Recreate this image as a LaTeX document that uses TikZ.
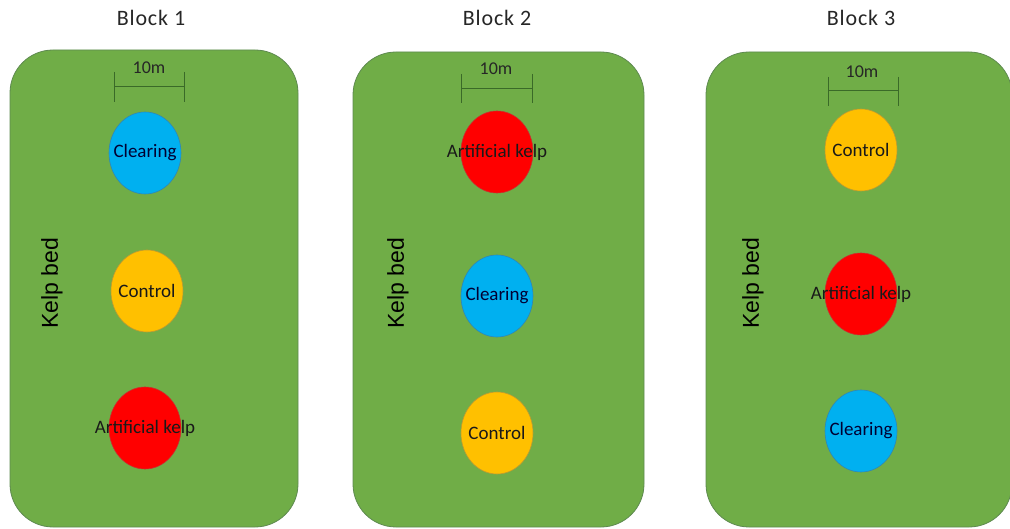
\documentclass[tikz,border=0pt]{standalone}
\usepackage{fontspec}
\setmainfont{Carlito}
\newfontfamily\kelpfont{Liberation Sans}
\newfontfamily\titlefont[LetterSpace=4]{Carlito}
\usetikzlibrary{shapes.geometric}
\definecolor{bedgreen}{HTML}{70AD47}
\definecolor{bedborder}{HTML}{5E8A50}
\definecolor{clrblue}{HTML}{00B0F0}
\definecolor{clrblueb}{HTML}{2F86B8}
\definecolor{ctrlorange}{HTML}{FFC000}
\definecolor{ctrlorangeb}{HTML}{C09A30}
\definecolor{artred}{HTML}{FF0000}
\definecolor{artredb}{HTML}{C83030}
\definecolor{barcol}{HTML}{3A6A28}
\definecolor{titlecol}{HTML}{262626}
\tikzset{
  bed/.style={draw=bedborder, fill=bedgreen, line width=0.8pt, rounded corners=43pt},
  plot/.style={ellipse, inner sep=0pt, minimum width=72pt, minimum height=82pt, line width=0.6pt},
  clearing/.style={plot, fill=clrblue, draw=clrblueb},
  control/.style={plot, fill=ctrlorange, draw=ctrlorangeb},
  artificial/.style={plot, fill=artred, draw=artredb},
  plotlabel/.style={font=\fontsize{19}{19}\selectfont, inner sep=0pt, text=black!90},
  blocktitle/.style={font=\titlefont\fontsize{22}{22}\selectfont, text=titlecol, inner sep=0pt},
  kelplabel/.style={font=\kelpfont\fontsize{23}{23}\selectfont, rotate=90, inner sep=0pt, text=black},
  scalebar/.style={draw=barcol, line width=0.9pt},
  scalelabel/.style={font=\fontsize{18}{18}\selectfont, text=black!85, inner sep=0pt}
}
\begin{document}
\begin{tikzpicture}[x=1pt,y=-1pt]
\useasboundingbox (0,0) rectangle (1010,529);
% beds
\draw[bed] (10,50) rectangle (298,527);
\draw[bed] (353,52) rectangle (644,527);
\draw[bed] (706,52) rectangle (1012,527);
% titles
\node[blocktitle] (t1) at (151,18) {Block 1};
\node[blocktitle] (t2) at (497,18) {Block 2};
\node[blocktitle] (t3) at (861,18) {Block 3};
% kelp bed labels
\node[kelplabel] (k1) at (52,283) {Kelp bed};
\node[kelplabel] (k2) at (398,283) {Kelp bed};
\node[kelplabel] (k3) at (753,283) {Kelp bed};
% scale bars
\draw[scalebar] (114,86) -- (184,86);
\draw[scalebar] (114,72) -- (114,102);
\draw[scalebar] (184,72) -- (184,102);
\node[scalelabel] (s1) at (149,68) {10m};
\draw[scalebar] (461,88) -- (532,88);
\draw[scalebar] (461,74) -- (461,103);
\draw[scalebar] (532,74) -- (532,103);
\node[scalelabel] (s2) at (496,69) {10m};
\draw[scalebar] (828,90) -- (898,90);
\draw[scalebar] (828,77) -- (828,106);
\draw[scalebar] (898,77) -- (898,106);
\node[scalelabel] (s3) at (862,72) {10m};
% block 1
\node[clearing] (b1a) at (145,153) {};
\node[plotlabel, text=black!80!blue] at (b1a) {Clearing};
\node[control] (b1b) at (147,291) {};
\node[plotlabel] at (b1b) {Control};
\node[artificial] (b1c) at (145,428) {};
\node[plotlabel] at (b1c) {Artificial kelp};
% block 2
\node[artificial] (b2a) at (497,152) {};
\node[plotlabel] at (b2a) {Artificial kelp};
\node[clearing] (b2b) at (497,296) {};
\node[plotlabel, text=black!80!blue] at (b2b) {Clearing};
\node[control] (b2c) at (497,433) {};
\node[plotlabel] at (b2c) {Control};
% block 3
\node[control] (b3a) at (861,150) {};
\node[plotlabel] at (b3a) {Control};
\node[artificial] (b3b) at (861,294) {};
\node[plotlabel] at (b3b) {Artificial kelp};
\node[clearing] (b3c) at (861,431) {};
\node[plotlabel, text=black!80!blue] at (b3c) {Clearing};
\end{tikzpicture}
\end{document}
